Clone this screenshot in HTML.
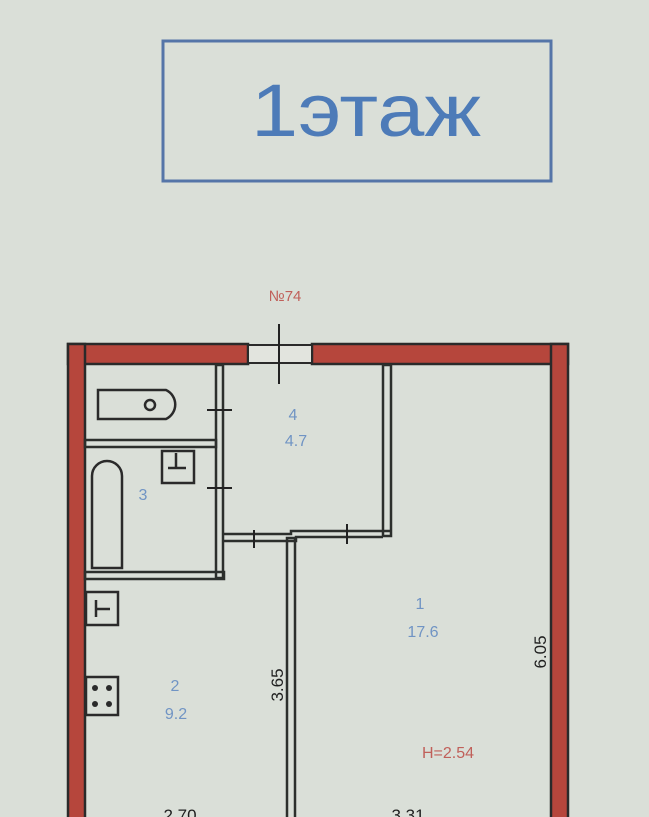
<!DOCTYPE html>
<html><head><meta charset="utf-8"><style>
html,body{margin:0;padding:0;background:#dadfd8;}
svg{display:block}
</style></head><body>
<svg width="649" height="817" viewBox="0 0 649 817" xmlns="http://www.w3.org/2000/svg" font-family="Liberation Sans, sans-serif">
<rect width="649" height="817" fill="#dadfd8"/>
<rect x="163" y="41" width="388" height="140" fill="none" stroke="#5575a8" stroke-width="3"/>
<text x="251" y="136" font-size="74" fill="#4d7bb8" textLength="230" lengthAdjust="spacingAndGlyphs">1этаж</text>
<text x="285" y="301" font-size="15" fill="#c0605a" text-anchor="middle">№74</text>
<!-- outer walls -->
<g fill="#b6463c" stroke="#2a2a2a" stroke-width="2.5">
<rect x="68" y="344" width="180" height="20"/>
<rect x="312" y="344" width="256" height="20"/>
<rect x="68" y="344" width="17" height="480"/>
<rect x="551" y="344" width="17" height="480"/>
</g>
<rect x="248" y="345" width="64" height="18" fill="#e2e4de" stroke="#2a2a2a" stroke-width="2"/>
<line x1="279" y1="324" x2="279" y2="384" stroke="#222" stroke-width="2"/>
<!-- inner walls -->
<g fill="none" stroke="#2c2f2c" stroke-width="2.5">
<rect x="216" y="365" width="7" height="213"/>
<rect x="85" y="440" width="131" height="7"/>
<rect x="85" y="572" width="139" height="7"/>
<rect x="383" y="365" width="8" height="171"/>
<path d="M224 534 H291 V531 H391"/><path d="M224 541 H296 V537 H383"/>
<rect x="287" y="538" width="8" height="290"/>
</g>
<g stroke="#222" stroke-width="2">
<line x1="207" y1="410" x2="232" y2="410"/><line x1="207" y1="488" x2="232" y2="488"/>
<line x1="254" y1="530" x2="254" y2="548"/><line x1="347" y1="524" x2="347" y2="544"/>
</g>
<!-- fixtures -->
<g fill="none" stroke="#2a2a2a" stroke-width="2.5">
<path d="M98 390 H166 A16 16 0 0 1 166 419 H98 Z"/>
<circle cx="150" cy="405" r="5"/>
<path d="M92 568 V476 A15 15 0 0 1 122 476 V568 Z"/>
<rect x="162" y="451" width="32" height="32"/>
<path d="M176 453 V468 M168 468 H186"/>
<rect x="86" y="592" width="32" height="33"/>
<path d="M96 600 V617 M96 609 H110"/>
<rect x="86" y="677" width="32" height="38"/>
</g>
<g fill="#2a2a2a"><circle cx="95" cy="688" r="3"/><circle cx="109" cy="688" r="3"/><circle cx="95" cy="704" r="3"/><circle cx="109" cy="704" r="3"/></g>
<!-- labels -->
<g fill="#7094c4" font-size="16" text-anchor="middle">
<text x="293" y="420">4</text><text x="296" y="446">4.7</text>
<text x="143" y="500">3</text>
<text x="420" y="609">1</text><text x="423" y="637">17.6</text>
<text x="175" y="691">2</text><text x="176" y="719">9.2</text>
</g>
<text x="448" y="758" font-size="16" fill="#c0605a" text-anchor="middle">Н=2.54</text>
<g font-size="17" fill="#1f1f1f" text-anchor="middle">
<text transform="translate(283,685) rotate(-90)">3.65</text>
<text transform="translate(546,652) rotate(-90)">6.05</text>
<text x="180" y="821">2.70</text><text x="408" y="821">3.31</text>
</g>
</svg>
</body></html>
